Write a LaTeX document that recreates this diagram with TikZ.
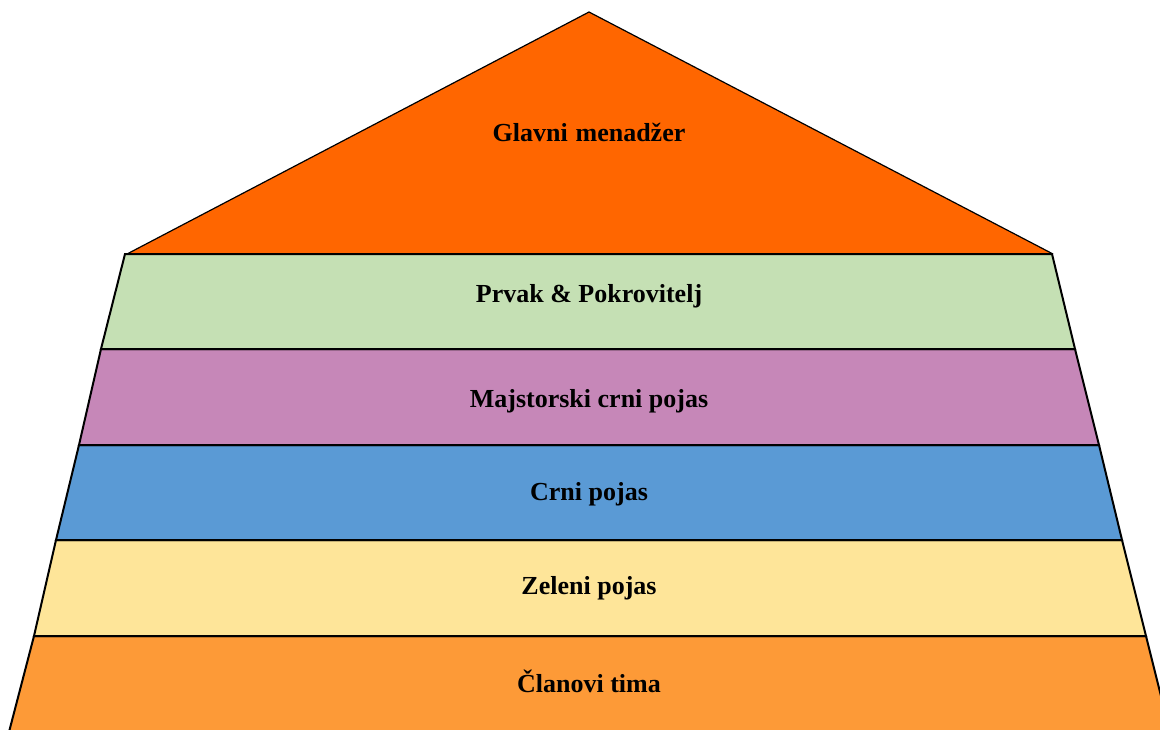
\documentclass[tikz,border=0pt]{standalone}
\usepackage{fontspec}
\setmainfont{Liberation Serif}
\definecolor{topor}{HTML}{FF6600}
\definecolor{bgreen}{HTML}{C5E0B4}
\definecolor{bpurple}{HTML}{C687B8}
\definecolor{bblue}{HTML}{5A9AD5}
\definecolor{byellow}{HTML}{FEE599}
\definecolor{borange}{HTML}{FD9A37}
\tikzset{
  band/.style={draw=black, line width=1pt, line join=miter},
  lbl/.style={font=\fontsize{13pt}{15pt}\selectfont\bfseries, anchor=base, inner sep=0pt}
}
\begin{document}
\begin{tikzpicture}[x=0.5pt, y=-0.5pt]
\useasboundingbox (0,0) rectangle (1160,729);
\clip (0,0) rectangle (1160,729);
\fill[white] (0,0) rectangle (1160,729);
% top triangle
\fill[topor] (127,254) -- (589,12) -- (1053,254) -- cycle;
\draw[black, line width=0.6pt] (127,254) -- (589,12) -- (1053,254);
% bands
\filldraw[band, fill=borange] (34,636) -- (1146,636) -- (1170,732) -- (9,732) -- cycle;
\filldraw[band, fill=byellow] (56,540) -- (1122,540) -- (1146,636) -- (34,636) -- cycle;
\filldraw[band, fill=bblue] (79,445) -- (1099,445) -- (1122,540) -- (56,540) -- cycle;
\filldraw[band, fill=bpurple] (101,349) -- (1075,349) -- (1099,445) -- (79,445) -- cycle;
\filldraw[band, fill=bgreen] (125,254) -- (1052,254) -- (1075,349) -- (101,349) -- cycle;
% labels
\node[lbl] (t0) at (589,141) {Glavni\hspace{0.3em}menadžer};
\node[lbl] (t1) at (589,302) {Prvak \& Pokrovitelj};
\node[lbl] (t2) at (589,407) {Majstorski crni pojas};
\node[lbl] (t3) at (589,500) {Crni pojas};
\node[lbl] (t4) at (589,594) {Zeleni pojas};
\node[lbl] (t5) at (589,692) {Članovi tima};
\end{tikzpicture}
\end{document}
